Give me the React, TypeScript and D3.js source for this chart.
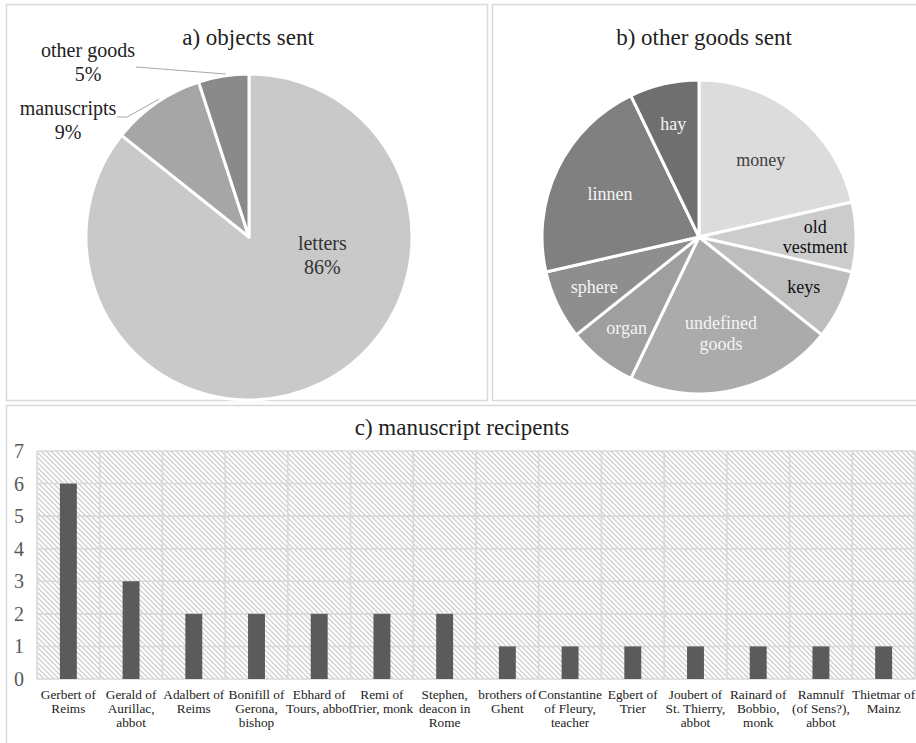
import React from "react";
import * as d3 from "d3";

// ---------- data ----------
const objectCategories = ["letters", "manuscripts", "other goods"];
const objectCounts = [240, 26, 14];
const objectColors = ["#c9c9c9", "#a6a6a6", "#8a8a8a"];

const goodsCategories = ["money", "old vestment", "keys", "undefined goods", "organ", "sphere", "linnen", "hay"];
const goodsCounts = [3, 1, 1, 3, 1, 1, 3, 1];
const goodsColors = ["#dcdcdc", "#cccccc", "#bdbdbd", "#ababab", "#9f9f9f", "#8e8e8e", "#808080", "#6f6f6f"];
const goodsLabelColors = ["#404040", "#111111", "#111111", "#f4f4f4", "#f4f4f4", "#f4f4f4", "#f4f4f4", "#f4f4f4"];
const goodsLabelLines = [["money"], ["old", "vestment"], ["keys"], ["undefined", "goods"], ["organ"], ["sphere"], ["linnen"], ["hay"]];

const recipients = [
  "Gerbert of Reims", "Gerald of Aurillac, abbot", "Adalbert of Reims", "Bonifill of Gerona, bishop",
  "Ebhard of Tours, abbot", "Remi of Trier, monk", "Stephen, deacon in Rome", "brothers of Ghent",
  "Constantine of Fleury, teacher", "Egbert of Trier", "Joubert of St. Thierry, abbot", "Rainard of Bobbio, monk",
  "Ramnulf (of Sens?), abbot", "Thietmar of Mainz",
];
const recipientLabelLines = [
  ["Gerbert of", "Reims"], ["Gerald of", "Aurillac,", "abbot"], ["Adalbert of", "Reims"], ["Bonifill of", "Gerona,", "bishop"],
  ["Ebhard of", "Tours, abbot"], ["Remi of", "Trier, monk"], ["Stephen,", "deacon in", "Rome"], ["brothers of", "Ghent"],
  ["Constantine", "of Fleury,", "teacher"], ["Egbert of", "Trier"], ["Joubert of", "St. Thierry,", "abbot"], ["Rainard of", "Bobbio,", "monk"],
  ["Ramnulf", "(of Sens?),", "abbot"], ["Thietmar of", "Mainz"],
];
const manuscriptCounts = [6, 3, 2, 2, 2, 2, 2, 1, 1, 1, 1, 1, 1, 1];
const yTicks = [0, 1, 2, 3, 4, 5, 6, 7];

const FONT = "Liberation Serif";
const BORDER = "#d9d9d9";

function PieA() {
  const cx = 249, cy = 237, r = 163;
  const arcs = d3.pie<number>().sort(null).value((d) => d)(objectCounts);
  const arc = d3.arc<d3.PieArcDatum<number>>().innerRadius(0).outerRadius(r);
  const total = d3.sum(objectCounts);
  const pct = (v: number) => d3.format(".0%")(v / total);
  const edge = (a: d3.PieArcDatum<number>) => {
    const m = (a.startAngle + a.endAngle) / 2;
    return [cx + Math.sin(m) * r, cy - Math.cos(m) * r];
  };
  const la = (102 * Math.PI) / 180;
  const lx = cx + Math.sin(la) * r * 0.46;
  const ly = cy - Math.cos(la) * r * 0.46;
  const eM = edge(arcs[1]);
  const eO = edge(arcs[2]);
  return (
    <g>
      <text x={248} y={37} fontFamily={FONT} textAnchor="middle" dominantBaseline="central" fontSize={23} fill="#222">a) objects sent</text>
      <g transform={`translate(${cx},${cy})`}>
        {arcs.map((a, i) => (
          <path key={i} d={arc(a) || ""} fill={objectColors[i]} stroke="#fff" strokeWidth={3} strokeLinejoin="round" />
        ))}
      </g>
      <text x={lx} y={ly} fontFamily={FONT} textAnchor="middle" fontSize={20} fill="#333">
        <tspan x={lx} dy="-0.15em">{objectCategories[0]}</tspan>
        <tspan x={lx} dy="1.2em">{pct(objectCounts[0])}</tspan>
      </text>
      <polyline points={`117,117 127,117 ${eM[0] + 3},${eM[1] - 4}`} fill="none" stroke="#a6a6a6" strokeWidth={1} />
      <polyline points={`136,67 ${eO[0] + 2},${eO[1] - 2}`} fill="none" stroke="#a6a6a6" strokeWidth={1} />
      <text x={68} y={115} fontFamily={FONT} textAnchor="middle" fontSize={20} fill="#222">
        <tspan x={68} dy="0">{objectCategories[1]}</tspan>
        <tspan x={68} dy="1.2em">{pct(objectCounts[1])}</tspan>
      </text>
      <text x={88} y={57} fontFamily={FONT} textAnchor="middle" fontSize={20} fill="#222">
        <tspan x={88} dy="0">{objectCategories[2]}</tspan>
        <tspan x={88} dy="1.2em">{pct(objectCounts[2])}</tspan>
      </text>
    </g>
  );
}

function PieB() {
  const cx = 699, cy = 237, r = 157;
  const arcs = d3.pie<number>().sort(null).value((d) => d)(goodsCounts);
  const arc = d3.arc<d3.PieArcDatum<number>>().innerRadius(0).outerRadius(r);
  const maxV = d3.max(goodsCounts) || 1;
  return (
    <g>
      <text x={704} y={37} fontFamily={FONT} textAnchor="middle" dominantBaseline="central" fontSize={23} fill="#222">b) other goods sent</text>
      <g transform={`translate(${cx},${cy})`}>
        {arcs.map((a, i) => (
          <path key={i} d={arc(a) || ""} fill={goodsColors[i]} stroke="#fff" strokeWidth={3} strokeLinejoin="round">
            <title>{goodsCategories[i]}</title>
          </path>
        ))}
        {arcs.map((a, i) => {
          const m = (a.startAngle + a.endAngle) / 2;
          const k = goodsCounts[i] >= maxV ? 0.63 : 0.74;
          const x = Math.sin(m) * r * k;
          const y = -Math.cos(m) * r * k;
          const lines = goodsLabelLines[i];
          const lh = 20.5;
          const y0 = y - ((lines.length - 1) * lh) / 2;
          return (
            <text key={i} fontFamily={FONT} textAnchor="middle" dominantBaseline="central" fontSize={18} fill={goodsLabelColors[i]}>
              {lines.map((t, j) => (
                <tspan key={j} x={x} y={y0 + j * lh}>{t}</tspan>
              ))}
            </text>
          );
        })}
      </g>
    </g>
  );
}

function BarC() {
  const left = 37, right = 915, top = 451, bottom = 679;
  const x = d3.scaleBand<string>().domain(recipients).range([left, right]).paddingInner(0).paddingOuter(0);
  const y = d3.scaleLinear().domain([0, 7]).range([bottom, top]);
  const bw = x.bandwidth() * 0.27;
  const bounds = recipients.map((c) => x(c) as number).concat([right]);
  return (
    <g>
      <defs>
        <pattern id="hatch" patternUnits="userSpaceOnUse" width={5} height={5}>
          <rect width={5} height={5} fill="#fff" />
          <path d="M-1,-1 L6,6 M-1,4 L1,6 M4,-1 L6,1" stroke="#cfcfcf" strokeWidth={1.3} />
        </pattern>
      </defs>
      <text x={462} y={427} fontFamily={FONT} textAnchor="middle" dominantBaseline="central" fontSize={23} fill="#222">c) manuscript recipents</text>
      <rect x={left} y={top} width={right - left} height={bottom - top} fill="url(#hatch)" />
      {yTicks.map((t) => (
        <line key={"h" + t} x1={left} x2={right} y1={y(t)} y2={y(t)} stroke={BORDER} strokeWidth={1.6} />
      ))}
      {bounds.map((bx, i) => (
        <line key={"v" + i} x1={bx} x2={bx} y1={top} y2={bottom} stroke={BORDER} strokeWidth={1.6} />
      ))}
      {recipients.map((c, i) => (
        <rect key={c} x={(x(c) as number) + x.bandwidth() / 2 - bw / 2} y={y(manuscriptCounts[i])} width={bw}
          height={y(0) - y(manuscriptCounts[i])} fill="#5b5b5b" />
      ))}
      {yTicks.map((t) => (
        <text key={"t" + t} x={24} y={y(t)} fontFamily={FONT} textAnchor="end" dominantBaseline="central" fontSize={20} fill="#595959">{t}</text>
      ))}
      {recipients.map((c, i) => {
        const cxp = (x(c) as number) + x.bandwidth() / 2;
        return (
          <text key={"l" + c} fontFamily={FONT} textAnchor="middle" dominantBaseline="central" fontSize={13.3} fill="#222">
            {recipientLabelLines[i].map((t, j) => (
              <tspan key={j} x={cxp} y={694 + j * 13.9}>{t}</tspan>
            ))}
          </text>
        );
      })}
    </g>
  );
}

export default function App() {
  return (
    <svg width={916} height={743} style={{ position: "absolute", left: 0, top: 0, background: "#fff" }}>
      <rect x={0} y={0} width={916} height={743} fill="#fff" />
      <rect x={6.5} y={4.5} width={481} height={396} fill="none" stroke={BORDER} strokeWidth={1.5} />
      <rect x={492.5} y={4.5} width={440} height={396} fill="none" stroke={BORDER} strokeWidth={1.5} />
      <rect x={6.5} y={405.5} width={940} height={360} fill="none" stroke={BORDER} strokeWidth={1.5} />
      <PieA />
      <PieB />
      <BarC />
    </svg>
  );
}
